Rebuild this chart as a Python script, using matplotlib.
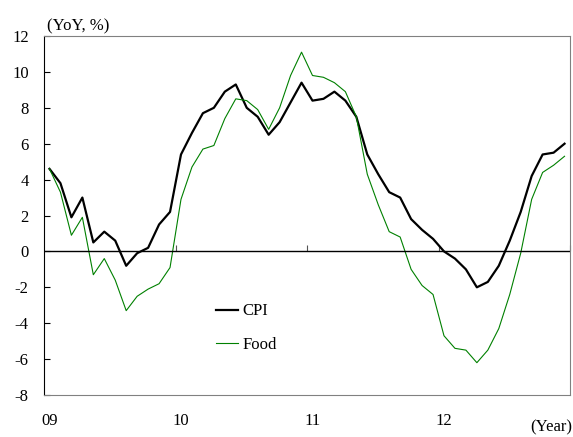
import numpy as np
import matplotlib
matplotlib.use("Agg")
import matplotlib.pyplot as plt

plt.rcParams['font.family'] = ['Liberation Serif', 'DejaVu Serif']
plt.rcParams['font.size'] = 12
plt.rcParams['axes.unicode_minus'] = False

# monthly data, Jan 2009 - Dec 2012 (YoY, %)
cpi = [4.6, 3.8, 1.9, 3.0, 0.5, 1.1, 0.6, -0.8, -0.1, 0.2, 1.5, 2.2,
       5.4, 6.6, 7.7, 8.0, 8.9, 9.3, 8.0, 7.5, 6.5, 7.2, 8.3, 9.4,
       8.4, 8.5, 8.9, 8.4, 7.5, 5.4, 4.3, 3.3, 3.0, 1.8, 1.2, 0.7,
       0.0, -0.4, -1.0, -2.0, -1.7, -0.8, 0.6, 2.2, 4.2, 5.4, 5.5, 6.0]
food = [4.6, 3.3, 0.9, 1.9, -1.3, -0.4, -1.6, -3.3, -2.5, -2.1, -1.8, -0.9,
        2.9, 4.7, 5.7, 5.9, 7.4, 8.5, 8.4, 7.9, 6.8, 8.0, 9.8, 11.1,
        9.8, 9.7, 9.4, 8.9, 7.5, 4.3, 2.6, 1.1, 0.8, -1.0, -1.9, -2.4,
        -4.7, -5.4, -5.5, -6.2, -5.5, -4.3, -2.4, -0.1, 2.9, 4.4, 4.8, 5.3]
years = ['09', '10', '11', '12']

x = np.arange(len(cpi)) + 0.5

fig = plt.figure(figsize=(5.73, 4.37), dpi=100)
ax = fig.add_axes([0.0768, 0.0961, 0.918, 0.8215])

ax.plot(x, cpi, color='black', lw=1.6, label='CPI')
ax.plot(x, food, color='#008000', lw=0.8, label='Food')

ax.set_xlim(0, 48)
ax.set_ylim(-8, 12)
ax.set_yticks(range(-8, 13, 2))
ax.tick_params(axis='y', direction='in', length=4, pad=11, colors='black')
ax.set_xticks([])

for s in ['top', 'right', 'bottom']:
    ax.spines[s].set_color('#808080')
ax.spines['left'].set_color('black')

# zero line with year ticks
ax.axhline(0, color='black', lw=1)
sec = ax.secondary_xaxis(0.4)
sec.spines['bottom'].set_visible(False)
sec.set_xticks([12, 24, 36, 48])
sec.tick_params(direction='in', length=4, width=0.8, color='#555555', labelbottom=False)

# year labels centred on January
for i, lab in enumerate(years):
    ax.text(i * 12 + 0.5, -9.45, lab, ha='center', va='center')
fig.text(0.998, 0.004, '(Year)', ha='right', va='bottom')

fig.text(47 / 573, 1 - 26 / 437, '(YoY, %)', ha='left', va='center')

ax.legend(loc='upper left', bbox_to_anchor=(0.327, 0.255), frameon=False,
          handlelength=1.3, handletextpad=0.3, labelspacing=1.05,
          borderpad=0, borderaxespad=0)

fig.savefig('out.png', dpi=100)
